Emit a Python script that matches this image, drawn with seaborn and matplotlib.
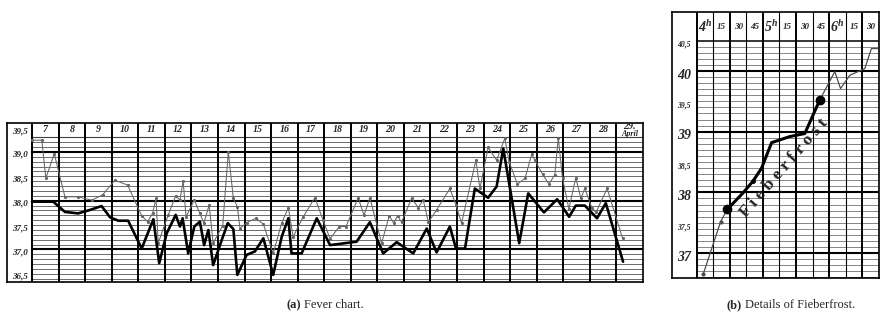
import matplotlib
matplotlib.use("Agg")
import numpy as np
import matplotlib.pyplot as plt
import seaborn as sns

# (a) fever chart: x in days of April (7.0 = start of the 7th), y in degrees C
thin_day = [7.00, 7.37, 7.52, 7.84, 8.24, 8.74, 9.25, 9.66, 10.12, 10.60,
            11.13, 11.35, 11.54, 11.67, 11.75, 12.13, 12.41, 12.57, 12.69, 12.80,
            13.11, 13.32, 13.47, 13.67, 13.82, 14.18, 14.39, 14.58, 14.73, 14.83,
            15.08, 15.43, 15.71, 16.08, 16.40, 16.65, 16.83, 17.21, 17.65, 17.96,
            18.22, 18.57, 18.82, 19.28, 19.50, 19.72, 20.16, 20.45, 20.62, 20.76,
            20.91, 21.29, 21.54, 21.73, 21.92, 22.23, 22.73, 22.96, 23.17, 23.71,
            23.86, 24.17, 24.49, 24.80, 24.96, 25.27, 25.56, 25.81, 25.93, 26.22,
            26.46, 26.68, 26.81, 26.97, 27.21, 27.47, 27.66, 27.81, 28.07, 28.23,
            28.65, 29.23]
thin_temp = [39.24, 39.24, 38.46, 38.96, 38.08, 38.08, 38.01, 38.12, 38.42, 38.32,
             37.69, 37.57, 37.74, 38.05, 37.13, 37.71, 38.10, 38.01, 38.41, 37.67,
             38.01, 37.74, 37.54, 37.91, 37.13, 37.49, 39.00, 38.05, 37.88, 37.43,
             37.55, 37.64, 37.52, 36.92, 37.54, 37.86, 37.26, 37.67, 38.06, 37.60,
             37.22, 37.47, 37.47, 38.06, 37.70, 38.06, 37.13, 37.69, 37.54, 37.69,
             37.56, 38.05, 37.86, 38.01, 37.56, 37.81, 38.25, 37.91, 37.54, 38.83,
             38.25, 39.09, 38.83, 39.28, 38.80, 38.34, 38.46, 38.95, 38.83, 38.54,
             38.34, 38.53, 39.29, 38.46, 37.83, 38.47, 38.05, 38.25, 37.86, 37.76,
             38.25, 37.23]
thick_day = [7.00, 7.80, 8.24, 8.74, 9.18, 9.62, 9.94, 10.25, 10.62, 11.13,
             11.57, 11.79, 12.07, 12.41, 12.57, 12.67, 12.88, 13.11, 13.32, 13.48,
             13.64, 13.82, 14.14, 14.37, 14.58, 14.73, 15.08, 15.39, 15.71, 16.08,
             16.40, 16.65, 16.77, 17.15, 17.72, 18.22, 19.22, 19.72, 20.22, 20.73,
             21.35, 21.86, 22.23, 22.73, 22.96, 23.30, 23.67, 24.17, 24.49, 24.74,
             25.34, 25.68, 26.27, 26.77, 27.22, 27.47, 27.81, 28.27, 28.60, 29.25]
thick_temp = [37.98, 37.98, 37.77, 37.74, 37.81, 37.89, 37.66, 37.59, 37.59, 37.02,
              37.62, 36.72, 37.33, 37.71, 37.47, 37.64, 36.92, 37.47, 37.57, 37.09,
              37.40, 36.68, 37.19, 37.54, 37.42, 36.48, 36.89, 36.96, 37.23, 36.48,
              37.26, 37.64, 36.92, 36.92, 37.64, 37.09, 37.16, 37.56, 36.92, 37.15,
              36.92, 37.43, 36.94, 37.47, 37.02, 37.02, 38.25, 38.06, 38.29, 39.07,
              37.13, 38.15, 37.76, 38.03, 37.67, 37.90, 37.90, 37.64, 37.95, 36.75]
day_labels = ["7", "8", "9", "10", "11", "12", "13", "14", "15", "16", "17", "18",
              "19", "20", "21", "22", "23", "24", "25", "26", "27", "28", "29."]
a_ticks = [39.5, 39.0, 38.5, 38.0, 37.5, 37.0, 36.5]
a_tick_labels = ["39,5", "39,0", "38,5", "38,0", "37,5", "37,0", "36,5"]

# (b) Fieberfrost detail: x in minutes after 4 h
frost_min = [6.0, 21.7, 27.7, 41.9, 51.2, 58.8, 67.9, 84.4, 98.0, 111.5,
             125.2, 130.4, 138.8, 152.4, 158.4, 164.1]
frost_temp = [36.66, 37.52, 37.72, 37.99, 38.19, 38.40, 38.82, 38.92, 38.97, 39.52,
              39.99, 39.71, 39.93, 40.04, 40.37, 40.37]
time_labels = [r"$4^{h}$", "15", "30", "45", r"$5^{h}$", "15",
               "30", "45", r"$6^{h}$", "15", "30"]
b_ticks = [40.5, 40.0, 39.5, 39.0, 38.5, 38.0, 37.5, 37.0]
b_tick_labels = ["40,5", "40", "39,5", "39", "38,5", "38", "37,5", "37"]

sns.set_style("white")
plt.rcParams["font.family"] = ["Liberation Serif", "DejaVu Serif"]
plt.rcParams["mathtext.fontset"] = "custom"
plt.rcParams["mathtext.rm"] = "Liberation Serif:italic:bold"
plt.rcParams["mathtext.it"] = "Liberation Serif:italic:bold"

W, H = 880, 322
fig = plt.figure(figsize=(W / 100, H / 100), dpi=100)
hand = dict(style="italic", weight="bold", color="0.15")

# ---------- (a) ----------
ax = fig.add_axes([7 / W, (H - 282) / H, (643 - 7) / W, (282 - 123) / H])
ax.set_xlim(6.06, 30)
ax.set_ylim(36.334, 39.592)
for t in np.arange(36.4, 39.25, 0.1):
    if abs(t - round(t)) > 0.01:
        ax.plot([7, 30], [t, t], color="0.38", lw=0.65, zorder=1)
for t in [37, 38, 39]:
    ax.plot([7, 30], [t, t], color="black", lw=1.5, zorder=1)
ax.plot([7, 30], [39.3, 39.3], color="0.25", lw=0.8, zorder=1)
for d in range(7, 30):
    ax.axvline(d, color="black", lw=1.4, zorder=1)

sns.lineplot(x=thin_day, y=thin_temp, ax=ax, sort=False, color="0.4", lw=0.75,
             marker="o", markersize=2.3, markeredgewidth=0, zorder=3)
sns.lineplot(x=thick_day, y=thick_temp, ax=ax, sort=False, color="black", lw=1.9,
             zorder=4)

for i, lab in enumerate(day_labels):
    ax.text(7.5 + i, 39.46 if i < len(day_labels) - 1 else 39.52, lab,
            ha="center", va="center", fontsize=7.2, **hand)
ax.text(29.5, 39.37, "April", ha="center", va="center", fontsize=5.8, **hand)
for t, lab in zip(a_ticks, a_tick_labels):
    y = 39.42 if t == 39.5 else t - 0.06
    ax.text(6.53, y, lab, ha="center", va="center", fontsize=6.5, **hand)
ax.set_xticks([])
ax.set_yticks([])
for s in ax.spines.values():
    s.set_visible(True)
    s.set_color("black")
    s.set_linewidth(1.2)

# ---------- (b) ----------
bx = fig.add_axes([671.7 / W, (H - 278.3) / H, (878.7 - 671.7) / W, (278.3 - 11.7) / H])
bx.set_xlim(-22.7, 165)
bx.set_ylim(36.585, 40.977)
for t in np.arange(36.6, 40.45, 0.1):
    if abs(t - round(t)) > 0.01:
        bx.plot([0, 165], [t, t], color="0.45", lw=0.6, zorder=1)
for t in [37, 38, 39, 40]:
    bx.plot([0, 165], [t, t], color="black", lw=1.5, zorder=1)
bx.plot([0, 165], [40.5, 40.5], color="black", lw=1.1, zorder=1)
for m in range(0, 166, 15):
    bx.axvline(m, color="black", lw=1.4 if m % 30 == 0 else 0.8, zorder=1)

sns.lineplot(x=frost_min[:3], y=frost_temp[:3], ax=bx, sort=False, color="0.3",
             lw=0.9, marker="o", markersize=3, markeredgewidth=0, zorder=3)
sns.lineplot(x=frost_min[2:10], y=frost_temp[2:10], ax=bx, sort=False, color="black",
             lw=2.2, zorder=4)
sns.lineplot(x=frost_min[9:], y=frost_temp[9:], ax=bx, sort=False, color="0.3",
             lw=0.9, zorder=3)
bx.plot([frost_min[2], frost_min[9]], [frost_temp[2], frost_temp[9]], "o",
        color="black", markersize=6, zorder=5)
bx.plot([frost_min[4]], [frost_temp[4]], "o", color="black", markersize=2.5, zorder=5)

bx.text(79.5, 38.40, "F i e b e r f r o s t", rotation=49, rotation_mode="anchor",
        ha="center", va="center", fontsize=12.5, weight="bold", color="0.15")
for i, lab in enumerate(time_labels):
    big = lab.startswith("$")
    bx.text(7.5 + 15 * i, 40.73, lab, ha="center", va="center",
            fontsize=10 if big else 6.5, **hand)
for t, lab in zip(b_ticks, b_tick_labels):
    big = "," not in lab
    bx.text(-11.5, t - 0.07, lab, ha="center", va="center",
            fontsize=10 if big else 5.5, **hand)
bx.set_xticks([])
bx.set_yticks([])
for s in bx.spines.values():
    s.set_visible(True)
    s.set_color("black")
    s.set_linewidth(1.2)

# captions
fig.text(301 / W, 1 - 305 / H, "(a)", ha="right", va="center", fontsize=9, weight="bold")
fig.text(304 / W, 1 - 305 / H, "Fever chart.", ha="left", va="center", fontsize=9)
fig.text(742 / W, 1 - 305 / H, "(b)", ha="right", va="center", fontsize=9, weight="bold")
fig.text(745 / W, 1 - 305 / H, "Details of Fieberfrost.", ha="left", va="center", fontsize=9)

fig.savefig("out.png", dpi=100)
